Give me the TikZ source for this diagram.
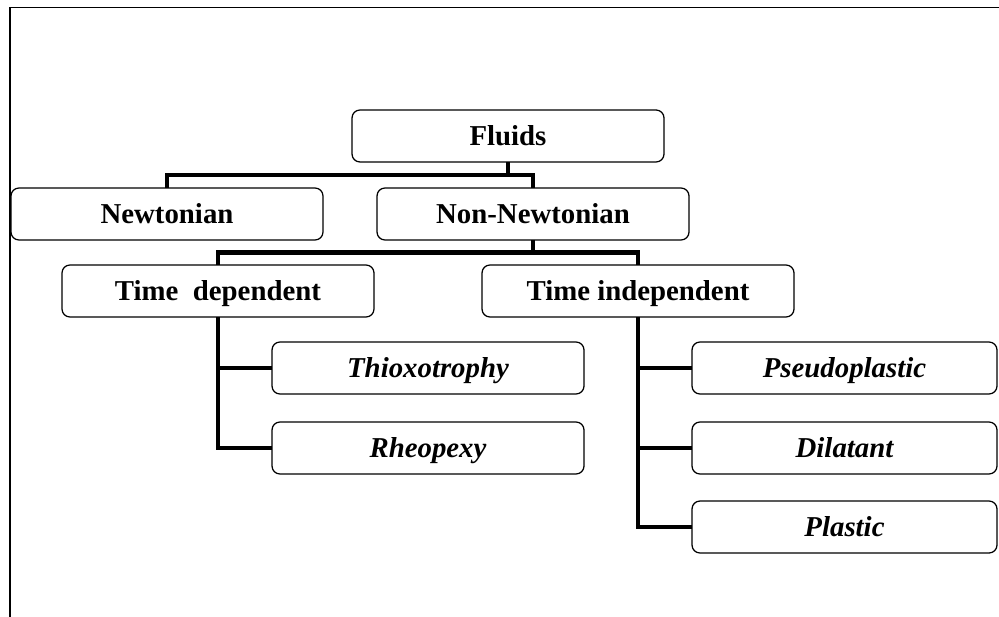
\documentclass[tikz,border=0pt]{standalone}
\usepackage{fontspec}
\setmainfont{Liberation Serif}
\usetikzlibrary{positioning}

\begin{document}
\begin{tikzpicture}
        [node 
            distance=0.65cm, 
            box/.style={draw, rectangle, rounded corners=0.2cm, line width=0.9pt, align=center, minimum width=7.8cm, minimum height=1.3cm, inner sep=0pt, outer sep=0pt, text height=13.4pt, text depth=0pt, font=\fontsize{20.5}{24}\selectfont\bfseries}, 
            leafbox/.style={box, font=\fontsize{20.5}{24}\selectfont\bfseries\itshape},
            link/.style={line width=3.2pt},
            frame/.style={line width=1pt}
        ]
        \useasboundingbox (0,0) rectangle (24.975,-15.425);
        \draw[frame] (0.25,-15.425) -- (0.25,-0.1825) -- (24.975,-0.1825);
        \node (fluids) [box] at (12.7,-3.4) {Fluids};
        \node (nonnewt) [box, below=0.65cm of fluids, xshift=0.625cm] {Non-Newtonian};
        \node (newt) [box, left=1.35cm of nonnewt] {Newtonian};
        \node (timedep) [box, below=0.625cm of nonnewt, xshift=-7.875cm] {Time~~dependent};
        \node (timeindep) [box, below=0.625cm of nonnewt, xshift=2.625cm] {Time independent};
        \node (thixo) [leafbox, below=0.625cm of timedep, xshift=5.25cm] {Thioxotrophy};
        \node (rheo) [leafbox, below=0.7cm of thixo] {Rheopexy};
        \node (pseudo) [leafbox, minimum width=7.625cm, below=0.625cm of timeindep, xshift=5.1625cm] {Pseudoplastic};
        \node (dilat) [leafbox, minimum width=7.625cm, below=0.7cm of pseudo] {Dilatant};
        \node (plastic) [leafbox, minimum width=7.625cm, below=0.675cm of dilat] {Plastic};
        % forks between the rows
        \draw[link] (fluids.south) -- ++(0,-0.325) coordinate (forka);
        \draw[link] (newt.north) |- (forka) -| (nonnewt.north);
        \draw[link] (nonnewt.south) -- ++(0,-0.3125) coordinate (forkb);
        \draw[link] (timedep.north) |- (forkb) -| (timeindep.north);
        % side branches to the leaves
        \draw[link] (timedep.south) |- (rheo.west);
        \draw[link] (thixo.west) -- (thixo.west -| timedep.south);
        \draw[link] (timeindep.south) |- (plastic.west);
        \draw[link] (pseudo.west) -- (pseudo.west -| timeindep.south);
        \draw[link] (dilat.west) -- (dilat.west -| timeindep.south);
    \end{tikzpicture}
\end{document}
